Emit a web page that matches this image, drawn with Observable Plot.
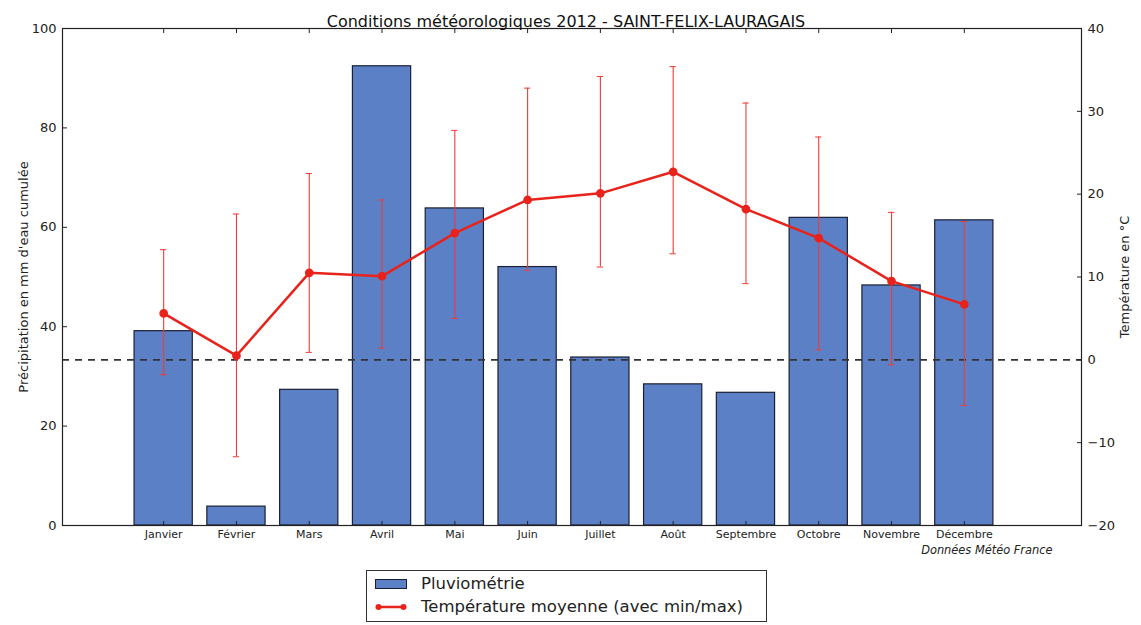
<!DOCTYPE html>
<html>
<head>
<meta charset="utf-8">
<script src="https://cdn.jsdelivr.net/npm/d3@7"></script>
<script src="https://cdn.jsdelivr.net/npm/@observablehq/plot@0.6"></script>
<style>
  body { margin: 0; background: #fff; font-family: "DejaVu Sans", sans-serif; }
  #wrap { position: relative; width: 1141px; height: 625px; }
  #legend { position: absolute; left: 366px; top: 570px; width: 399px; height: 50px; border: 1px solid #333; background: #fff; font-size: 16.5px; color: #222; }
  .item { position: absolute; left: 8px; display: flex; align-items: center; }
  .item span { margin-left: 14px; }
</style>
</head>
<body>
<div id="wrap"></div>
<script>
const months = ["Janvier","Février","Mars","Avril","Mai","Juin","Juillet","Août","Septembre","Octobre","Novembre","Décembre"];
const rain  = [39.1, 3.8, 27.3, 92.4, 63.8, 52.0, 33.8, 28.4, 26.7, 61.9, 48.3, 61.4];
const tMean = [5.6, 0.5, 10.5, 10.1, 15.3, 19.3, 20.1, 22.7, 18.2, 14.7, 9.5, 6.7];
const tMin  = [-1.8, -11.7, 0.9, 1.4, 5.0, 10.8, 11.2, 12.8, 9.2, 1.2, -0.6, -5.5];
const tMax  = [13.3, 17.6, 22.5, 19.3, 27.7, 32.8, 34.2, 35.4, 31.0, 26.9, 17.8, 16.7];
const rainTicks = [0, 20, 40, 60, 80, 100];
const tempTicks = [-20, -10, 0, 10, 20, 30, 40];
const refTemp = [0];
const titleText = ["Conditions météorologiques 2012 - SAINT-FELIX-LAURAGAIS"];
const sourceText = ["Données Météo France"];
const legendLabels = ["Pluviométrie", "Température moyenne (avec min/max)"];

const tempDomain = [-20, 40];
const rainDomain = [0, 100];
const toMm = t => (t - tempDomain[0]) * (rainDomain[1] - rainDomain[0]) / (tempDomain[1] - tempDomain[0]);

const data = months.map((m, i) => ({month: m, rain: rain[i], mean: tMean[i], min: tMin[i], max: tMax[i]}));

const barFill = "#5b80c6";
const red = "#e8231c";

const chart = Plot.plot({
  width: 1141,
  height: 625,
  marginTop: 28,
  marginBottom: 100,
  marginLeft: 62,
  marginRight: 60,
  style: {fontFamily: "DejaVu Sans", fontSize: "12px", background: "white", color: "#222"},
  x: {type: "band", domain: months, paddingInner: 0.2, paddingOuter: 1.1, align: 0.45, round: false, label: null},
  y: {domain: rainDomain, label: null},
  marks: [
    Plot.barY(data, {x: "month", y: "rain", fill: barFill, stroke: "#1b1f33", strokeWidth: 1.2}),
    Plot.ruleY(refTemp, {y: d => toMm(d), stroke: "#333", strokeWidth: 1.6, strokeDasharray: "7,6"}),
    Plot.ruleX(data, {x: "month", y1: d => toMm(d.min), y2: d => toMm(d.max), stroke: "#f23a33", strokeWidth: 1.1}),
    Plot.tickY(data, {x: "month", y: d => toMm(d.max), inset: 26, stroke: "#f23a33", strokeWidth: 1}),
    Plot.tickY(data, {x: "month", y: d => toMm(d.min), inset: 26, stroke: "#f23a33", strokeWidth: 1}),
    Plot.lineY(data, {x: "month", y: d => toMm(d.mean), stroke: red, strokeWidth: 2.5}),
    Plot.dot(data, {x: "month", y: d => toMm(d.mean), r: 3.6, fill: red, stroke: red}),
    Plot.frame({stroke: "#222", strokeWidth: 1.2}),
    Plot.axisY({anchor: "left", ticks: rainTicks, tickSize: -5, tickPadding: 11, fontSize: 13,
      label: "Précipitation en mm d'eau cumulée", labelAnchor: "center", labelArrow: "none", labelOffset: 44}),
    Plot.axisY({anchor: "right", ticks: tempTicks.map(toMm), tickSize: -5, tickPadding: 11, fontSize: 13,
      tickFormat: v => { const t = Math.round(v * 60 / 100 - 20); return t < 0 ? "−" + Math.abs(t) : String(t); },
      label: "Température en °C", labelAnchor: "center", labelArrow: "none", labelOffset: 47}),
    Plot.axisX({anchor: "bottom", tickSize: -4, tickPadding: 9, fontSize: 11}),
    Plot.axisX({anchor: "top", tickSize: -4, tickFormat: () => "", label: null}),
    Plot.text(titleText, {text: d => d, frameAnchor: "top", dx: -6, dy: -13, fontSize: 16, fill: "#111"}),
    Plot.text(sourceText, {text: d => d, frameAnchor: "bottom-right", dx: -29, dy: 28, fontSize: 11.4, fontStyle: "italic", fill: "#222"})
  ]
});

const wrap = document.getElementById("wrap");
wrap.appendChild(chart);

const legend = document.createElement("div");
legend.id = "legend";
legend.innerHTML = `
  <div class="item" style="top:3px;">
    <svg width="32" height="14"><rect x="0.5" y="2.5" width="31" height="9" fill="${barFill}" stroke="#1b1f33"/></svg>
    <span>${legendLabels[0]}</span>
  </div>
  <div class="item" style="top:26px;">
    <svg width="32" height="14"><line x1="3" y1="7" x2="29" y2="7" stroke="${red}" stroke-width="2.5"/><circle cx="3.5" cy="7" r="3" fill="${red}"/><circle cx="28.5" cy="7" r="3" fill="${red}"/></svg>
    <span>${legendLabels[1]}</span>
  </div>`;
wrap.appendChild(legend);
</script>
</body>
</html>
